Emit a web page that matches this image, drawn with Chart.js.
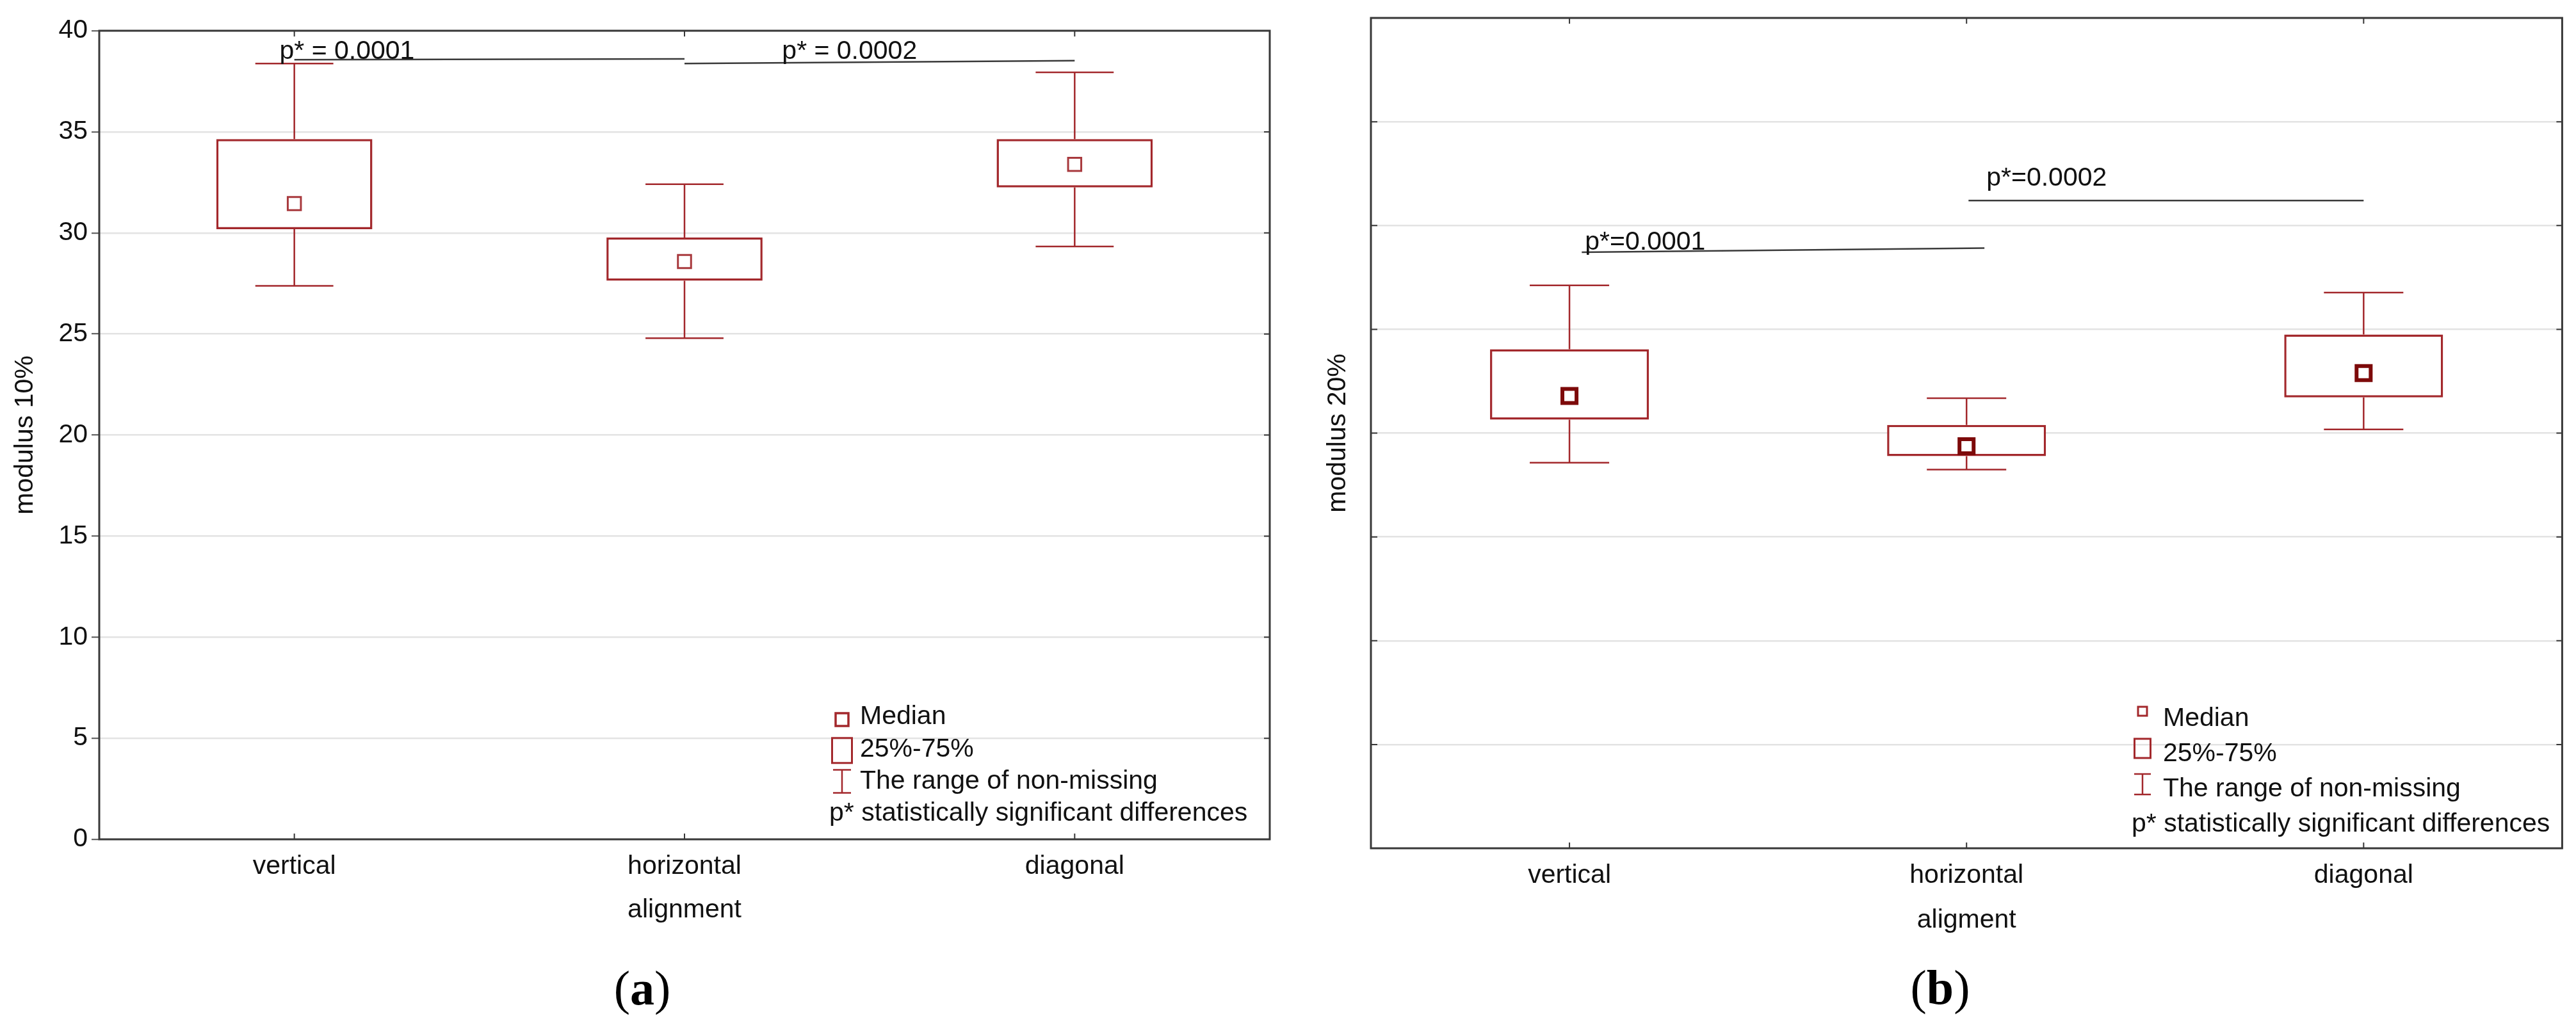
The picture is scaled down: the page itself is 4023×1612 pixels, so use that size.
<!DOCTYPE html>
<html>
<head>
<meta charset="utf-8">
<title>modulus 10% / 20% by alignment</title>
<script src="https://cdn.jsdelivr.net/npm/chart.js@4.4.1/dist/chart.umd.min.js"></script>
<style>
  html, body { margin: 0; padding: 0; background: #fff; }
  body { width: 4023px; height: 1612px; position: relative; overflow: hidden; }
  canvas { position: absolute; top: 0; }
  #chartA { left: 0; }
  #chartB { left: 2011px; }
</style>
</head>
<body>
<canvas id="chartA" width="2011" height="1612"></canvas>
<canvas id="chartB" width="2012" height="1612"></canvas>
<script>
var categories = ["vertical", "horizontal", "diagonal"];
var yTicks = [0, 5, 10, 15, 20, 25, 30, 35, 40];
var legendLabels = ["Median", "25%-75%", "The range of non-missing", "p* statistically significant differences"];

// (a) modulus 10%
var minA = [27.38, 24.79, 29.33];
var q1A  = [30.18, 27.63, 32.25];
var medA = [31.45, 28.58, 33.39];
var q3A  = [34.64, 29.77, 34.64];
var maxA = [38.38, 32.41, 37.94];
var sigA = [
  { from: 0, to: 1, yFrom: 38.57, yTo: 38.61, text: "p* = 0.0001", textAt: -0.038, textY: 38.62 },
  { from: 1, to: 2, yFrom: 38.38, yTo: 38.52, text: "p* = 0.0002", textAt: 1.25, textY: 38.62 }
];

// (b) modulus 20%
var minB = [18.57, 18.24, 20.18];
var q1B  = [20.65, 18.89, 21.72];
var medB = [21.79, 19.37, 22.89];
var q3B  = [24.04, 20.39, 24.75];
var maxB = [27.12, 21.68, 26.77];
var sigB = [
  { from: 0.031, to: 1.045, yFrom: 28.71, yTo: 28.91, text: "p*=0.0001", textAt: 0.039, textY: 28.84 },
  { from: 1.005, to: 2.0, yFrom: 31.2, yTo: 31.2, text: "p*=0.0002", textAt: 1.05, textY: 31.91 }
];

var RED = '#a3282c';
var SANS = "'Liberation Sans', Arial, sans-serif";
Chart.defaults.font.family = SANS;
Chart.defaults.font.size = 41;
Chart.defaults.color = '#111';

var boxExtras = {
  id: 'boxExtras',
  beforeDatasetsDraw: function(chart, args, o) {
    var ctx = chart.ctx, a = chart.chartArea, xs = chart.scales.x, ys = chart.scales.y;
    ctx.save();
    // frame
    ctx.strokeStyle = '#383838';
    ctx.lineWidth = 3;
    ctx.strokeRect(a.left, a.top, a.right - a.left, a.bottom - a.top);
    // small inside ticks
    ctx.lineWidth = 2;
    ctx.beginPath();
    categories.forEach(function(c, i) {
      var px = xs.getPixelForValue(i);
      ctx.moveTo(px, a.top); ctx.lineTo(px, a.top + 9);
      ctx.moveTo(px, a.bottom); ctx.lineTo(px, a.bottom - 9);
    });
    yTicks.forEach(function(v) {
      var py = ys.getPixelForValue(v);
      ctx.moveTo(a.right, py); ctx.lineTo(a.right - 9, py);
      if (o.leftInside) { ctx.moveTo(a.left, py); ctx.lineTo(a.left + 10, py); }
    });
    ctx.stroke();
    // whiskers
    var meta = chart.getDatasetMeta(0);
    ctx.strokeStyle = RED;
    ctx.lineWidth = 2.5;
    ctx.beginPath();
    meta.data.forEach(function(bar, i) {
      var cx = bar.x, half = bar.width / 4;
      var yMin = ys.getPixelForValue(o.min[i]), yMax = ys.getPixelForValue(o.max[i]);
      var yQ1 = ys.getPixelForValue(o.q1[i]), yQ3 = ys.getPixelForValue(o.q3[i]);
      ctx.moveTo(cx, yQ3); ctx.lineTo(cx, yMax);
      ctx.moveTo(cx - half, yMax); ctx.lineTo(cx + half, yMax);
      ctx.moveTo(cx, yQ1); ctx.lineTo(cx, yMin);
      ctx.moveTo(cx - half, yMin); ctx.lineTo(cx + half, yMin);
    });
    ctx.stroke();
    ctx.restore();
  },
  afterDraw: function(chart, args, o) {
    var ctx = chart.ctx, a = chart.chartArea, xs = chart.scales.x, ys = chart.scales.y;
    ctx.save();
    // significance lines + labels
    o.sig.forEach(function(s) {
      ctx.strokeStyle = '#3a3a3a';
      ctx.lineWidth = 2.5;
      ctx.beginPath();
      ctx.moveTo(xs.getPixelForValue(s.from), ys.getPixelForValue(s.yFrom));
      ctx.lineTo(xs.getPixelForValue(s.to), ys.getPixelForValue(s.yTo));
      ctx.stroke();
      ctx.fillStyle = '#111';
      ctx.font = '41px ' + SANS;
      ctx.textAlign = 'left';
      ctx.textBaseline = 'alphabetic';
      ctx.fillText(s.text, xs.getPixelForValue(s.textAt), ys.getPixelForValue(s.textY));
    });
    // legend
    var L = o.legend;
    var tx = a.left + L.x, ty = a.bottom + L.y;
    var mx = tx + L.markerDx;
    ctx.font = '41px ' + SANS;
    ctx.fillStyle = '#111';
    ctx.textBaseline = 'middle';
    legendLabels.forEach(function(lbl, i) {
      var y = ty + i * L.gap;
      ctx.fillText(lbl, i === 3 ? tx + L.lastDx : tx, y);
    });
    ctx.strokeStyle = RED;
    // median marker
    ctx.lineWidth = L.medWidth;
    ctx.fillStyle = '#fff';
    ctx.fillRect(mx - L.med / 2, ty + L.medDy - L.med / 2, L.med, L.med);
    ctx.strokeRect(mx - L.med / 2, ty + L.medDy - L.med / 2, L.med, L.med);
    // box marker
    ctx.lineWidth = 3;
    var by = ty + L.gap + L.boxDy;
    ctx.strokeRect(mx - L.box[0] / 2, by - L.box[1] / 2, L.box[0], L.box[1]);
    // whisker marker
    ctx.lineWidth = 2.5;
    var wy = ty + 2 * L.gap + L.whiskDy;
    ctx.beginPath();
    ctx.moveTo(mx - L.whisk[0] / 2, wy - L.whisk[1] / 2); ctx.lineTo(mx + L.whisk[0] / 2, wy - L.whisk[1] / 2);
    ctx.moveTo(mx, wy - L.whisk[1] / 2); ctx.lineTo(mx, wy + L.whisk[1] / 2);
    ctx.moveTo(mx - L.whisk[0] / 2, wy + L.whisk[1] / 2); ctx.lineTo(mx + L.whisk[0] / 2, wy + L.whisk[1] / 2);
    ctx.stroke();
    // panel caption "(a)" / "(b)"
    var C = o.caption;
    var fReg = "76px 'Liberation Serif', 'Times New Roman', serif";
    var fBold = "bold 76px 'Liberation Serif', 'Times New Roman', serif";
    ctx.fillStyle = '#000';
    ctx.textBaseline = 'middle';
    ctx.textAlign = 'left';
    ctx.font = fReg; var w1 = ctx.measureText('(').width, w3 = ctx.measureText(')').width;
    ctx.font = fBold; var w2 = ctx.measureText(C.letter).width;
    var sx = C.x - (w1 + w2 + w3) / 2;
    ctx.font = fReg; ctx.fillText('(', sx, C.y);
    ctx.font = fBold; ctx.fillText(C.letter, sx + w1, C.y);
    ctx.font = fReg; ctx.fillText(')', sx + w1 + w2, C.y);
    ctx.restore();
  }
};

function makeChart(id, s) {
  var ctx = document.getElementById(id).getContext('2d');
  return new Chart(ctx, {
    type: 'bar',
    data: {
      labels: categories,
      datasets: [{
        data: s.q1.map(function(v, i) { return [v, s.q3[i]]; }),
        backgroundColor: '#fff',
        borderColor: RED,
        borderWidth: 3.5,
        borderSkipped: false,
        barPercentage: 0.4,
        categoryPercentage: 1,
        order: 1
      }, {
        type: 'line',
        data: s.med,
        showLine: false,
        pointStyle: 'rect',
        pointRadius: s.medRadius,
        pointBorderWidth: s.medBorder,
        pointBorderColor: s.medColor,
        pointBackgroundColor: '#fff',
        order: 0
      }]
    },
    options: {
      responsive: false,
      animation: false,
      events: [],
      layout: { padding: s.padding },
      plugins: {
        legend: { display: false },
        tooltip: { enabled: false },
        boxExtras: {
          min: s.min, q1: s.q1, q3: s.q3, max: s.max,
          sig: s.sig, legend: s.legend, caption: s.caption,
          leftInside: s.leftInside
        }
      },
      scales: {
        x: {
          offset: true,
          grid: { display: false, drawTicks: false },
          border: { display: false },
          ticks: { padding: 18, color: '#111' },
          title: { display: true, text: s.xTitle, color: '#111', padding: { top: 0, bottom: s.xTitlePad } },
          afterFit: function(scale) { scale.height = 140; }
        },
        y: {
          min: yTicks[0],
          max: yTicks[yTicks.length - 1],
          border: { display: false },
          grid: { color: '#e3e3e3', lineWidth: 2.5, drawTicks: s.showY, tickLength: 12, tickColor: '#555', tickWidth: 2 },
          ticks: { display: s.showY, stepSize: 5, padding: 6, color: '#111' },
          title: { display: true, text: s.yTitle, color: '#111', padding: { top: s.yTitlePad, bottom: 0 } },
          afterFit: function(scale) { scale.width = s.yWidth; }
        }
      }
    },
    plugins: [boxExtras]
  });
}

makeChart('chartA', {
  min: minA, q1: q1A, med: medA, q3: q3A, max: maxA, sig: sigA,
  medRadius: 14.5, medBorder: 3, medColor: '#a8393d',
  padding: { left: 0, top: 48, right: 28, bottom: 161 },
  yWidth: 155, showY: true, leftInside: false,
  yTitle: 'modulus 10%', yTitlePad: 15,
  xTitle: 'alignment', xTitlePad: 5,
  legend: { x: 1188, y: -191, gap: 50.3, markerDx: -28, lastDx: -48, med: 20, medDy: 4, medWidth: 3.5,
            box: [31, 39], boxDy: 2, whisk: [28, 36], whiskDy: 0 },
  caption: { letter: 'a', x: 1003, y: 1549 }
});

makeChart('chartB', {
  min: minB, q1: q1B, med: medB, q3: q3B, max: maxB, sig: sigB,
  medRadius: 15.6, medBorder: 6, medColor: '#7d0a0a',
  padding: { left: 0, top: 28, right: 18, bottom: 147 },
  yWidth: 130, showY: false, leftInside: true,
  yTitle: 'modulus 20%', yTitlePad: 54,
  xTitle: 'aligment', xTitlePad: 3,
  legend: { x: 1237, y: -202, gap: 55, markerDx: -32, lastDx: -49, med: 14, medDy: -12, medWidth: 3,
            box: [25, 30], boxDy: -9, whisk: [26, 32], whiskDy: -8 },
  caption: { letter: 'b', x: 1019, y: 1548 }
});
</script>
</body>
</html>
